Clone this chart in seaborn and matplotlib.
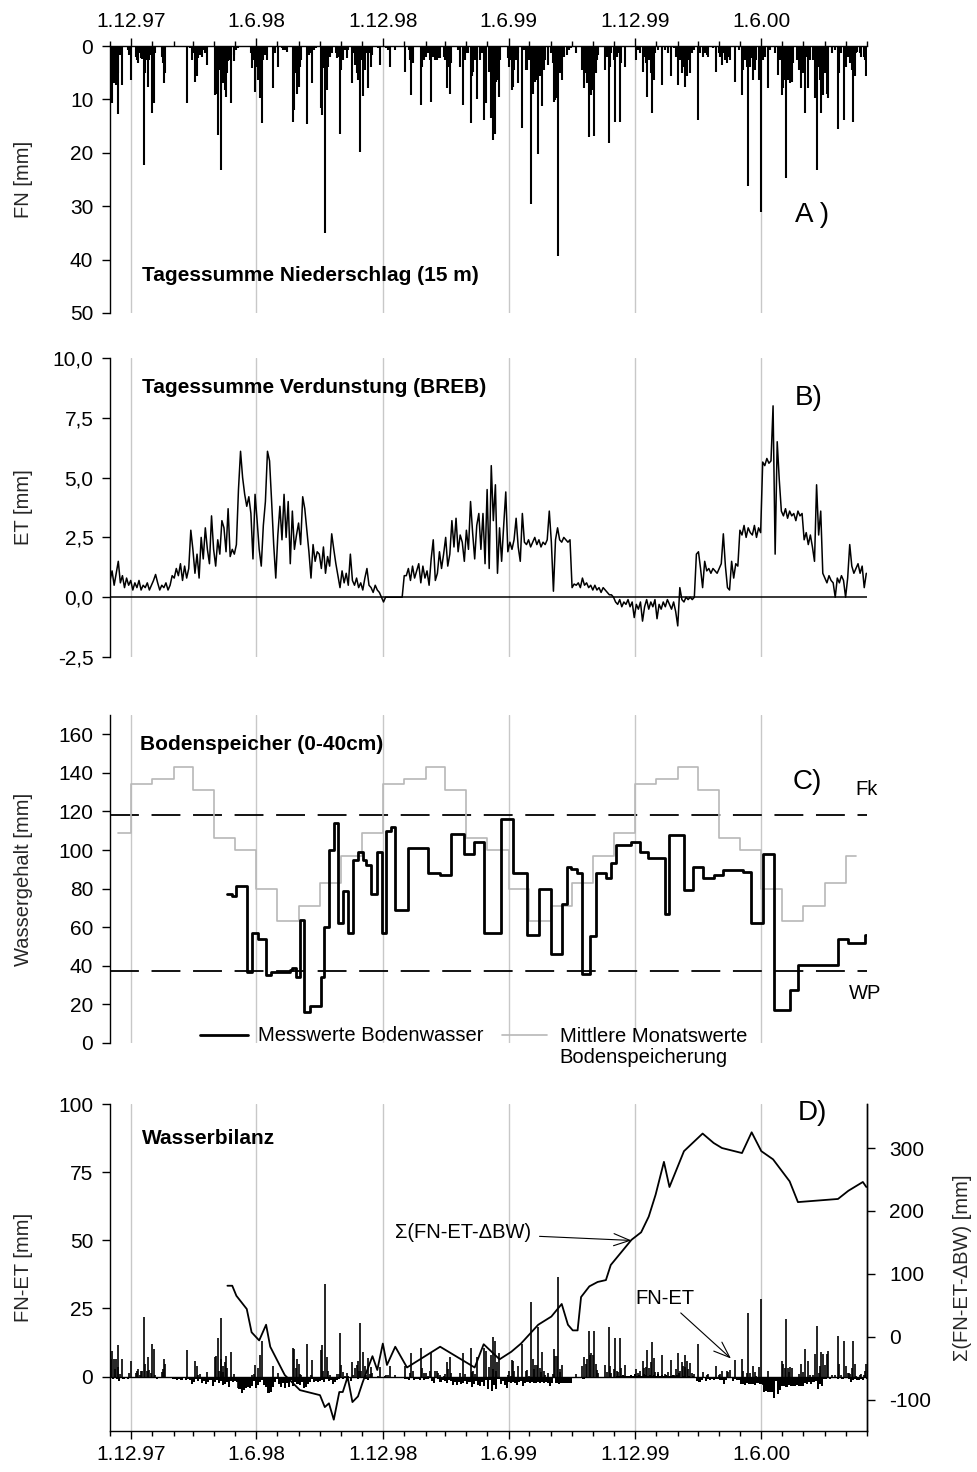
import numpy as np
import pandas as pd
import matplotlib
matplotlib.use("Agg")
import matplotlib.pyplot as plt
import matplotlib.dates as mdates
from matplotlib.ticker import FuncFormatter, MultipleLocator
import seaborn as sns

sns.set_theme(style="ticks")
plt.rcParams["font.family"] = ["Liberation Sans", "DejaVu Sans"]
plt.rcParams["axes.unicode_minus"] = False
plt.rcParams["axes.linewidth"] = 1.0
plt.rcParams["axes.edgecolor"] = "black"
plt.rcParams["xtick.color"] = "black"
plt.rcParams["ytick.color"] = "black"
plt.rcParams["text.color"] = "black"

# ---------------------------------------------------------------- data
record_start = pd.Timestamp("1997-11-01")
record_end = pd.Timestamp("2000-11-01")

# daily precipitation events (day number since record_start, mm)
rain_day = [
    1, 3, 6, 7, 9, 11, 12, 15, 18, 26, 28, 30, 37, 39, 40, 43, 45, 47, 49, 51,
    53, 55, 57, 59, 61, 63, 65, 75, 77, 78, 80,
    112, 116, 118, 121, 123, 126, 128, 130, 133, 135, 138, 141,
    152, 154, 156, 158, 160, 161, 163, 164, 166, 168, 170, 171, 173, 175, 179,
    180, 183, 186,
    204, 206, 208, 210, 212, 215, 217, 220, 222, 224, 227, 236, 239, 243, 249,
    251, 253, 256,
    265, 267, 269, 271, 273, 275, 277, 285, 288, 291, 293, 296, 298,
    305, 307, 309, 312, 314, 316, 319, 321, 327, 329, 331, 333, 335, 338, 340,
    343, 345, 350, 352, 355, 357, 359, 360, 362, 364, 367, 369, 371, 374, 376,
    378, 380, 388, 391,
    400, 403, 405, 413, 427, 433, 434, 436, 438, 450, 452, 455, 458, 461, 463,
    465, 468, 471, 473, 475, 478, 483, 485, 488, 490, 492, 494,
    504, 507, 511, 514, 516, 519, 522, 524, 526, 528, 531, 532, 536, 538, 541,
    545, 549, 552, 554, 555, 557, 559, 561, 563, 565, 576, 578, 580, 582, 583,
    585, 588, 590, 591, 597, 600, 602, 604, 606,
    610, 612, 614, 616, 618, 620, 622, 624, 626, 628, 630, 634, 639, 641, 643,
    645, 647, 649, 651, 652, 655, 657, 661, 664, 668, 674,
    684, 686, 689, 691, 693, 695, 697, 699, 701, 703, 705, 707, 717, 719, 722,
    724, 726, 729, 731, 734, 736, 738, 740, 746,
    762, 765, 767, 771, 773, 776, 778, 780, 783, 785, 787, 789, 794, 799, 804,
    808, 812, 816, 819, 823, 825, 828, 830, 832, 833, 835, 837, 840, 842, 845,
    851, 854, 858, 860, 861, 864, 866, 873, 878, 881, 883, 886, 888, 890, 893,
    895, 898, 905, 910, 915, 917, 919, 922, 924, 927, 929, 931, 934, 936, 939,
    942, 946, 948, 952, 956, 963, 967, 970, 973, 975, 977, 979, 981, 983, 985,
    987, 989, 994, 997, 999,
    1001, 1004, 1006, 1009, 1011, 1013, 1018, 1021, 1023, 1026, 1028, 1030,
    1033, 1035, 1038, 1040, 1045, 1050, 1054, 1056, 1059, 1063, 1065, 1068,
    1070, 1072, 1074, 1076, 1078, 1080, 1082, 1086, 1088, 1091, 1093, 1095,
]
rain_mm = [
    7.0, 10.6, 7.0, 3.2, 7.3, 12.7, 5.1, 1.7, 7.3, 0.7, 1.7, 6.4, 2.0, 2.6, 3.2, 1.4, 2.3, 2.5, 22.3, 5.1,
    2.6, 7.6, 2.6, 1.7, 12.5, 10.7, 1.4, 2.0, 3.2, 7.0, 5.1,
    10.7, 0.4, 2.6, 1.4, 6.7, 5.7, 2.3, 1.7, 2.0, 0.7, 1.4, 3.6,
    9.2, 8.9, 16.7, 4.5, 8.2, 23.3, 7.0, 4.8, 8.2, 9.6, 5.1, 2.9, 2.6, 10.7, 1.7,
    2.9, 0.7, 0.4,
    1.4, 4.2, 2.6, 8.6, 3.9, 6.4, 9.8, 14.5, 2.6, 1.7, 2.6, 7.9, 1.4, 3.9, 0.4,
    0.7, 0.7, 1.2,
    14.2, 12.0, 5.1, 8.9, 7.6, 3.9, 2.6, 14.6, 1.7, 1.4, 7.0, 0.7, 0.4,
    11.7, 12.9, 4.2, 35.0, 8.2, 3.9, 2.0, 1.4, 1.4, 2.3, 2.0, 16.4, 4.5, 2.6, 0.7,
    2.3, 0.7, 7.0, 1.4, 3.6, 5.1, 6.4, 2.6, 19.9, 2.6, 9.4, 4.5, 1.4, 7.9, 1.4,
    3.9, 1.7, 0.4, 3.6,
    0.4, 0.7, 3.9, 0.7, 4.8, 0.7, 2.6, 9.2, 3.2, 11.0, 3.9, 2.6, 2.0, 1.4, 2.6,
    10.4, 2.0, 2.6, 2.6, 2.3, 2.3, 2.0, 2.6, 7.9, 3.9, 9.0, 3.2,
    0.7, 3.9, 11.0, 2.6, 1.4, 1.4, 14.5, 5.7, 4.8, 2.6, 1.4, 10.0, 2.6, 1.4, 13.9,
    10.7, 4.8, 13.5, 8.2, 17.6, 16.4, 6.7, 6.4, 9.5, 2.6, 2.3, 3.9, 2.6, 8.2, 7.6,
    4.5, 2.6, 7.0, 1.4, 15.4, 0.7, 4.5, 4.5, 2.6,
    29.6, 8.9, 5.1, 6.7, 6.4, 20.3, 5.7, 3.9, 11.2, 4.5, 2.6, 3.6, 1.4, 3.2, 10.4,
    10.1, 9.8, 39.3, 5.1, 3.9, 6.4, 2.0, 1.7, 0.7, 0.4, 1.4,
    4.5, 7.9, 5.1, 7.0, 17.1, 8.2, 9.2, 8.2, 16.9, 5.1, 2.6, 1.7, 4.5, 2.0, 18.2,
    3.9, 1.4, 2.6, 14.2, 2.0, 1.4, 14.2, 3.2, 3.9,
    2.6, 0.7, 1.4, 4.8, 2.0, 3.2, 9.5, 2.6, 5.1, 12.6, 6.4, 1.4, 0.7, 7.3, 0.7,
    1.4, 5.6, 0.4, 2.0, 7.3, 2.6, 5.1, 3.9, 7.6, 3.2, 5.7, 2.6, 5.1, 1.4, 0.7,
    13.9, 1.4, 2.0, 0.4, 1.4, 1.7, 2.0, 0.4, 4.8, 1.4, 2.0, 3.6, 1.4, 2.6, 3.2,
    2.0, 2.6, 6.7, 0.7, 9.2, 4.5, 2.6, 3.9, 26.3, 3.9, 2.3, 6.4, 4.5, 2.6, 6.4,
    31.1, 2.6, 2.0, 7.9, 0.7, 1.4, 5.4, 2.6, 9.2, 7.9, 6.4, 24.7, 6.4, 5.1, 7.0,
    6.7, 3.2, 2.6, 4.5, 2.0,
    7.9, 5.1, 12.5, 2.0, 7.9, 2.6, 2.6, 9.8, 23.2, 3.9, 6.4, 12.5,
    9.2, 5.1, 8.9, 9.8, 1.4, 0.7, 15.6, 5.1, 1.4, 13.9, 3.9, 2.0,
    2.0, 3.2, 4.5, 14.2, 5.7, 1.4, 1.1, 1.4, 2.0, 2.0, 2.6, 5.7,
]

# evapotranspiration (Bowen ratio energy balance), one value every 3 days
et_step_days = 3
et_mm = [
    # days 0-27
    0.7, 1.1, 0.5, 1.0, 1.5, 0.6, 0.9, 0.4, 0.8, 0.5,
    # days 30-57
    0.7, 0.3, 0.6, 0.4, 0.7, 0.3, 0.5, 0.4, 0.6, 0.3,
    # days 60-87
    0.5, 0.7, 0.95, 0.6, 0.3, 0.5, 0.4, 0.6, 0.3, 0.5,
    # days 90-117
    0.9, 0.8, 1.2, 0.9, 1.4, 0.7, 1.3, 0.8, 1.2, 2.8,
    # days 120-147
    2.0, 1.0, 1.8, 0.8, 2.5, 1.6, 2.9, 2.0, 1.4, 3.4,
    # days 150-177
    2.0, 1.3, 2.4, 1.8, 3.2, 2.9, 1.9, 3.7, 1.7, 2.0,
    # days 180-207
    1.8, 2.2, 4.5, 6.1, 5.0, 4.3, 3.8, 4.2, 3.5, 1.6,
    # days 210-237
    4.3, 3.2, 2.0, 1.3, 3.0, 4.0, 6.1, 5.7, 4.0, 2.2,
    # days 240-267
    0.8, 2.6, 3.8, 2.4, 4.3, 2.5, 4.0, 1.4, 3.6, 2.0,
    # days 270-297
    2.6, 3.1, 2.2, 4.2, 3.7, 2.8, 1.9, 0.8, 2.2, 1.5,
    # days 300-327
    1.9, 1.8, 1.2, 2.1, 1.0, 1.7, 1.3, 2.65, 2.0, 1.4,
    # days 330-357
    0.9, 0.4, 1.1, 0.6, 1.0, 0.5, 1.8, 0.7, 0.5, 0.8,
    # days 360-387
    0.4, 0.6, 0.3, 0.8, 1.2, 0.5, 0.4, 0.2, 0.5, 0.3,
    # days 390-417
    0.2, 0.0, -0.2, 0.0, 0.0, 0.0, 0.0, 0.0, 0.0, 0.0,
    # days 420-447
    0.0, 0.0, 0.9, 0.9, 1.2, 0.7, 1.3, 0.8, 1.1, 1.4,
    # days 450-477
    0.6, 1.3, 0.8, 1.1, 0.5, 1.6, 2.4, 0.7, 1.0, 1.9,
    # days 480-507
    1.2, 1.8, 2.5, 1.3, 1.8, 3.2, 2.1, 3.3, 1.9, 2.6,
    # days 510-537
    2.3, 1.5, 2.8, 2.0, 4.0, 2.7, 1.6, 3.0, 3.5, 2.0,
    # days 540-567
    3.5, 1.4, 4.5, 1.2, 5.5, 3.2, 4.7, 1.0, 2.9, 1.5,
    # days 570-597
    3.0, 4.4, 1.9, 2.3, 2.0, 2.4, 3.3, 2.1, 1.5, 3.5,
    # days 600-627
    2.3, 2.2, 2.4, 2.1, 2.3, 2.5, 2.2, 2.4, 2.1, 2.3,
    # days 630-657
    2.2, 2.4, 3.6, 2.3, 0.25, 2.4, 2.9, 2.4, 2.3, 2.5,
    # days 660-687
    2.4, 2.3, 2.4, 0.4, 0.55, 0.5, 0.6, 0.4, 0.8, 0.5,
    # days 690-717
    0.6, 0.4, 0.5, 0.3, 0.5, 0.3, 0.4, 0.2, 0.4, 0.3,
    # days 720-747
    0.2, 0.1, 0.1, 0.0, -0.2, -0.3, -0.1, -0.4, -0.2, -0.3,
    # days 750-777
    -0.1, -0.4, -0.2, -0.85, -0.3, -0.5, -0.2, -1.0, -0.4, -0.1,
    # days 780-807
    -0.5, -0.2, -0.4, -0.1, -0.9, -0.3, -0.5, -0.2, -0.4, -0.1,
    # days 810-837
    -0.3, -0.5, -0.2, -0.6, -1.2, 0.4, -0.1, -0.2, 0.0, -0.1,
    # days 840-867
    0.0, -0.1, 0.0, 1.8, 1.9, 1.2, 0.4, 1.5, 1.1, 1.2,
    # days 870-897
    1.0, 1.2, 1.1, 1.0, 1.2, 1.4, 2.65, 1.3, 0.4, 0.3,
    # days 900-927
    1.5, 0.8, 1.4, 1.3, 2.8, 2.6, 3.0, 2.5, 2.9, 2.7,
    # days 930-957
    2.6, 3.0, 2.5, 2.9, 2.7, 5.65, 5.5, 5.8, 5.6, 5.7,
    # days 960-987
    8.0, 1.8, 6.5, 4.9, 3.6, 3.4, 3.7, 3.3, 3.6, 3.4,
    # days 990-1017
    3.5, 3.2, 3.6, 3.4, 3.5, 2.4, 2.7, 2.2, 2.6, 2.1,
    # days 1020-1047
    1.5, 4.7, 2.6, 3.6, 1.0, 0.8, 0.6, 0.9, 0.7, 0.6,
    # days 1050-1077
    0.0, 0.8, 0.6, 0.9, 0.7, 0.0, 0.8, 2.2, 1.3, 1.0,
    # days 1080-1095
    1.2, 1.4, 1.0, 1.3, 0.4, 1.0,
]

# measured soil water content 0-40 cm
soil_dates = [
    "1998-04-20", "1998-04-27", "1998-05-03", "1998-05-18", "1998-05-25",
    "1998-06-03", "1998-06-15", "1998-06-22", "1998-07-19", "1998-07-23",
    "1998-07-29", "1998-08-03", "1998-08-09", "1998-08-17", "1998-09-02",
    "1998-09-07", "1998-09-14", "1998-09-21", "1998-09-27", "1998-10-04",
    "1998-10-11", "1998-10-19", "1998-10-26", "1998-11-02", "1998-11-07",
    "1998-11-14", "1998-11-23", "1998-11-30", "1998-12-06", "1998-12-13",
    "1998-12-19", "1999-01-06", "1999-02-04", "1999-02-22", "1999-03-09",
    "1999-03-29", "1999-04-12", "1999-04-27", "1999-05-21", "1999-06-07",
    "1999-06-28", "1999-07-15", "1999-08-02", "1999-08-17", "1999-08-25",
    "1999-08-31", "1999-09-08", "1999-09-15", "1999-09-27", "1999-10-05",
    "1999-10-20", "1999-10-27", "1999-11-04", "1999-11-25", "1999-12-08",
    "1999-12-20", "2000-01-13", "2000-01-20", "2000-02-10", "2000-02-23",
    "2000-03-09", "2000-03-24", "2000-04-06", "2000-05-05", "2000-05-17",
    "2000-06-03", "2000-06-19", "2000-07-12", "2000-07-24", "2000-09-20",
    "2000-10-05", "2000-10-29", "2000-11-01",
]
soil_mm = [
    77, 76, 81.5, 37, 57,
    54, 35, 37, 38, 39,
    34, 64, 16, 19, 34,
    60, 100, 114, 62, 79,
    57, 95, 99, 95, 92,
    77, 99, 57, 110, 112,
    69, 101, 88, 87, 108.5,
    98, 104, 57, 116, 88,
    56, 80, 46, 72, 91,
    90, 88, 36, 55.6, 88,
    85.6, 93.5, 102.5, 104, 99,
    96, 67, 108, 79.5, 91,
    85.6, 87, 89.5, 88.5, 62,
    98, 17, 27.5, 40.5, 54,
    52, 56, 56,
]

# long-term mean monthly soil storage, November ... October
monthly_mean_mm = [109, 134, 137, 143, 131, 106, 100, 80, 63, 71, 83, 97]
monthly_first = "1997-11-12"
monthly_last = "2000-10-16"

field_capacity = 118
wilting_point = 37.5

# cumulative water balance sum(FN-ET-dBW)
balance_dates = [
    "1998-04-20", "1998-04-27", "1998-05-03", "1998-05-18", "1998-05-25",
    "1998-06-05", "1998-06-15", "1998-06-21", "1998-07-12", "1998-08-03",
    "1998-09-01", "1998-09-08", "1998-09-14", "1998-09-21", "1998-09-29",
    "1998-10-04", "1998-10-11", "1998-10-18", "1998-10-26", "1998-11-02",
    "1998-11-16", "1998-11-23", "1998-12-01", "1998-12-07", "1998-12-19",
    "1999-01-05", "1999-02-22", "1999-04-13", "1999-04-26", "1999-05-19",
    "1999-06-05", "1999-06-19", "1999-07-14", "1999-08-02", "1999-08-17",
    "1999-08-26", "1999-09-02", "1999-09-09", "1999-09-14", "1999-09-26",
    "1999-10-08", "1999-10-20", "1999-10-27", "1999-11-26", "1999-12-10",
    "1999-12-21", "1999-12-31", "2000-01-12", "2000-01-20", "2000-02-10",
    "2000-03-08", "2000-03-24", "2000-04-05", "2000-05-04", "2000-05-18",
    "2000-06-01", "2000-06-18", "2000-07-12", "2000-07-24", "2000-09-20",
    "2000-10-05", "2000-10-26", "2000-10-31",
]
balance_mm = [
    81, 81, 65, 44, 7,
    -6, 19, -16, -61, -85,
    -93, -112, -106, -132, -88,
    -88, -64, -104, -95, -72,
    -31, -53, -11, -45, -16,
    -49, -16, -49, -12, -36,
    -24, -11, 19, 32, 52,
    19, 10, 10, 63, 80,
    87, 90, 114, 154, 166,
    191, 226, 278, 238, 295,
    323, 308, 300, 292, 325,
    295, 282, 247, 214, 219,
    232, 246, 238,
]

assert len(rain_day) == len(rain_mm)
assert len(soil_dates) == len(soil_mm)
assert len(balance_dates) == len(balance_mm)

# ---------------------------------------------------------------- derived series
rain_dates = record_start + pd.to_timedelta(np.asarray(rain_day), unit="D")
et_arr = np.asarray(et_mm, dtype=float)
et_dates = record_start + pd.to_timedelta(np.arange(len(et_arr)) * et_step_days, unit="D")
et_df = pd.DataFrame({"date": et_dates, "et": et_arr})

rain_arr = np.asarray(rain_mm, dtype=float)
rain_net = rain_arr - et_arr[np.asarray(rain_day) // et_step_days]

soil_df = pd.DataFrame({"date": pd.to_datetime(soil_dates), "water": soil_mm})

mm_dates = ([pd.Timestamp(monthly_first)]
            + list(pd.date_range("1997-12-01", "2000-10-01", freq="MS"))
            + [pd.Timestamp(monthly_last)])
mm_vals = [monthly_mean_mm[(d.month - 11) % 12] for d in mm_dates]
mean_df = pd.DataFrame({"date": mm_dates, "water": mm_vals})

bal_df = pd.DataFrame({"date": pd.to_datetime(balance_dates), "sum": balance_mm})

# ---------------------------------------------------------------- figure
W, H = 978, 1472
fig = plt.figure(figsize=(W / 100, H / 100), dpi=100)
left, width = 110 / W, 757 / W


def frame(top_px, bottom_px):
    return fig.add_axes([left, 1 - bottom_px / H, width, (bottom_px - top_px) / H])


ax_a = frame(46, 313)
ax_b = frame(358, 657)
ax_c = frame(715, 1043)
ax_d = frame(1104, 1431)

grid_color = "#c8c8c8"
fs_tick = 15
fs_lab = 14.5
fs_title = 15
fs_panel = 20


def date_label(x, pos):
    d = mdates.num2date(x)
    return f"{d.day}.{d.month}.{d.strftime('%y')}"


for ax in (ax_a, ax_b, ax_c, ax_d):
    ax.set_xlim(record_start, record_end)
    ax.xaxis.set_major_locator(mdates.MonthLocator(bymonth=[6, 12], bymonthday=1))
    ax.xaxis.set_minor_locator(mdates.MonthLocator())
    ax.xaxis.set_major_formatter(FuncFormatter(date_label))
    ax.grid(False)
    ax.xaxis.grid(True, which="major", color=grid_color, lw=1.0)
    ax.set_axisbelow(True)
    ax.set_facecolor("none")
    for s in ("top", "right", "bottom"):
        ax.spines[s].set_visible(False)
    ax.spines["left"].set_visible(True)
    ax.tick_params(axis="y", which="major", direction="out", length=6, width=1.0,
                   pad=6, labelsize=fs_tick)
    ax.tick_params(axis="x", which="both", bottom=False, top=False,
                   labelbottom=False, labeltop=False)
    ax.yaxis.set_label_coords(-0.102, 0.5)

# ---- A: precipitation
ax_a.vlines(rain_dates, 0, rain_arr, color="black", lw=1.5)
ax_a.set_ylim(50, 0)
ax_a.yaxis.set_major_locator(MultipleLocator(10))
ax_a.spines["top"].set_visible(True)
ax_a.tick_params(axis="x", which="major", top=True, labeltop=True, direction="out",
                 length=6, width=1.0, pad=5, labelsize=fs_tick)
ax_a.tick_params(axis="x", which="minor", top=True, direction="out", length=3.5, width=1.0)
ax_a.set_ylabel("FN [mm]", fontsize=fs_lab)
ax_a.text(0.042, 0.142, "Tagessumme Niederschlag (15 m)", transform=ax_a.transAxes,
          fontsize=fs_title, fontweight="bold", va="center", ha="left")
ax_a.text(0.905, 0.367, "A )", transform=ax_a.transAxes, fontsize=fs_panel,
          va="center", ha="left")

# ---- B: evapotranspiration
ax_b.axhline(0, color="black", lw=1.1, zorder=1.5)
sns.lineplot(data=et_df, x="date", y="et", ax=ax_b, color="black", lw=1.1)
ax_b.set_ylim(-2.5, 10)
ax_b.yaxis.set_major_locator(MultipleLocator(2.5))
ax_b.yaxis.set_major_formatter(FuncFormatter(lambda v, p: f"{v:.1f}".replace(".", ",")))
ax_b.set_xlabel("")
ax_b.set_ylabel("ET [mm]", fontsize=fs_lab)
ax_b.yaxis.set_label_coords(-0.102, 0.5)
ax_b.text(0.042, 0.903, "Tagessumme Verdunstung (BREB)", transform=ax_b.transAxes,
          fontsize=fs_title, fontweight="bold", va="center", ha="left")
ax_b.text(0.905, 0.866, "B)", transform=ax_b.transAxes, fontsize=fs_panel,
          va="center", ha="left")

# ---- C: soil storage
dash = (0, (16, 7))
ax_c.axhline(field_capacity, color="black", lw=1.3, ls=dash, zorder=1.5)
ax_c.axhline(wilting_point, color="black", lw=1.3, ls=dash, zorder=1.5)
sns.lineplot(data=mean_df, x="date", y="water", ax=ax_c, color="#b8b8b8", lw=1.2,
             drawstyle="steps-post")
sns.lineplot(data=soil_df, x="date", y="water", ax=ax_c, color="black", lw=2.0,
             drawstyle="steps-post")
ax_c.set_ylim(0, 170)
ax_c.yaxis.set_major_locator(MultipleLocator(20))
ax_c.set_xlabel("")
ax_c.set_ylabel("Wassergehalt [mm]", fontsize=fs_lab)
ax_c.yaxis.set_label_coords(-0.102, 0.5)
ax_c.text(0.039, 0.909, "Bodenspeicher (0-40cm)", transform=ax_c.transAxes,
          fontsize=fs_title, fontweight="bold", va="center", ha="left")
ax_c.text(0.902, 0.796, "C)", transform=ax_c.transAxes, fontsize=fs_panel,
          va="center", ha="left")
ax_c.text(0.985, 0.774, "Fk", transform=ax_c.transAxes, fontsize=fs_lab,
          va="center", ha="left")
ax_c.text(0.976, 0.152, "WP", transform=ax_c.transAxes, fontsize=fs_lab,
          va="center", ha="left")
# legend keys
ax_c.plot([0.119, 0.182], [0.024, 0.024], transform=ax_c.transAxes, color="black",
          lw=2.0, clip_on=False)
ax_c.text(0.1955, 0.024, "Messwerte Bodenwasser", transform=ax_c.transAxes,
          fontsize=fs_lab, va="center", ha="left")
ax_c.plot([0.518, 0.577], [0.024, 0.024], transform=ax_c.transAxes, color="#b8b8b8",
          lw=1.2, clip_on=False)
ax_c.text(0.594, 0.049, "Mittlere Monatswerte\nBodenspeicherung",
          transform=ax_c.transAxes, fontsize=fs_lab, va="top", ha="left",
          linespacing=1.15)

# ---- D: water balance
ax_d.spines["bottom"].set_visible(True)
ax_d.spines["right"].set_visible(True)
ax_d.axhline(0, color="black", lw=1.0, zorder=1.5)
ax_d.bar(et_dates, -et_arr, width=et_step_days, align="edge", color="black",
         linewidth=0)
ax_d.vlines(rain_dates, 0, rain_net, color="black", lw=1.2)
ax_d.set_ylim(-20, 100)
ax_d.yaxis.set_major_locator(MultipleLocator(25))
ax_d.tick_params(axis="x", which="major", bottom=True, labelbottom=True, direction="out",
                 length=6, width=1.0, pad=4, labelsize=fs_tick)
ax_d.tick_params(axis="x", which="minor", bottom=True, direction="out", length=3.5,
                 width=1.0)
ax_d.set_ylabel("FN-ET [mm]", fontsize=fs_lab)
ax_d.yaxis.set_label_coords(-0.102, 0.5)
ax_d.text(0.042, 0.893, "Wasserbilanz", transform=ax_d.transAxes,
          fontsize=fs_title, fontweight="bold", va="center", ha="left")
ax_d.text(0.908, 0.972, "D)", transform=ax_d.transAxes, fontsize=fs_panel,
          va="center", ha="left")

ax_r = ax_d.twinx()
ax_r.grid(False)
for s in ("top", "left", "bottom"):
    ax_r.spines[s].set_visible(False)
ax_r.spines["right"].set_visible(True)
sns.lineplot(data=bal_df, x="date", y="sum", ax=ax_r, color="black", lw=1.3)
ax_r.set_ylim(-150, 370)
ax_r.yaxis.set_major_locator(MultipleLocator(100))
ax_r.tick_params(axis="y", direction="out", length=6, width=1.0, pad=10,
                 labelsize=fs_tick, right=True, labelright=True)
ax_r.set_xlabel("")
ax_r.set_ylabel("Σ(FN-ET-ΔBW) [mm]", fontsize=fs_lab, rotation=90)
ax_r.yaxis.set_label_coords(1.1136, 0.5)
ax_r.set_xlim(record_start, record_end)

ax_r.annotate("Σ(FN-ET-ΔBW)", xy=(pd.Timestamp("1999-11-26"), 153),
              xytext=(pd.Timestamp("1998-12-18"), 165), fontsize=fs_lab,
              ha="left", va="center",
              arrowprops=dict(arrowstyle="->,head_length=0.8,head_width=0.3",
                              color="black", lw=0.8, shrinkA=4, shrinkB=0))
ax_d.annotate("FN-ET", xy=(pd.Timestamp("2000-04-18"), 6.6),
              xytext=(pd.Timestamp("2000-01-13"), 28.7), fontsize=fs_lab,
              ha="center", va="center",
              arrowprops=dict(arrowstyle="->,head_length=0.8,head_width=0.3",
                              color="black", lw=0.8, shrinkA=2, shrinkB=0))

fig.savefig("out.png", dpi=100, facecolor="white")
